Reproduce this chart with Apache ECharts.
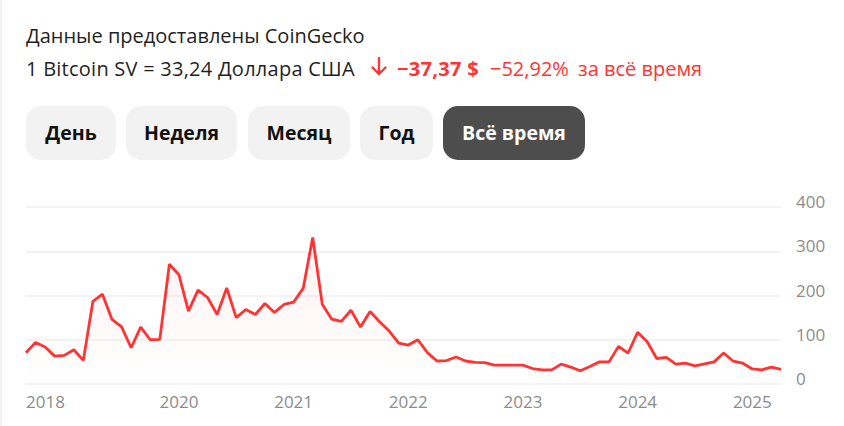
<!DOCTYPE html>
<html>
<head>
<meta charset="utf-8">
<script src="https://cdn.jsdelivr.net/npm/echarts@6/dist/echarts.min.js"></script>
<style>
  html, body { margin: 0; padding: 0; background: #fff; }
  body { width: 844px; height: 426px; position: relative; overflow: hidden; font-family: "Open Sans", "Noto Sans", sans-serif; }
  #edge { position: absolute; left: 0; top: 0; width: 2px; height: 426px; background: #f2f2f2; }
  #chart { position: absolute; left: 0; top: 0; width: 844px; height: 426px; }
  .t { position: absolute; white-space: nowrap; font-size: 20px; color: #1f1f1f; line-height: 28px; }
  .red { color: #ff3333; }
  .btn { position: absolute; top: 106px; height: 54px; border-radius: 15px; background: #f2f2f2; color: #111;
         font-weight: 700; font-size: 19.5px; line-height: 54px; text-align: center; }
  .btn.active { background: #4d4d4d; color: #fff; }
</style>
</head>
<body>
<div id="chart"></div>
<div id="edge"></div>
<div class="t" style="left:26px;top:22px">Данные предоставлены CoinGecko</div>
<div class="t" style="left:26px;top:55px;letter-spacing:0.25px">1 Bitcoin SV = 33,24 Доллара США</div>
<svg style="position:absolute;left:371px;top:57px" width="16" height="19" viewBox="0 0 16 19">
  <path d="M8 1 V17 M1.5 10.5 L8 17 L14.5 10.5" fill="none" stroke="#ff3333" stroke-width="2.3" stroke-linecap="round" stroke-linejoin="round"/>
</svg>
<div class="t red" style="left:397px;top:55px;font-weight:700;letter-spacing:0.3px">−37,37 $</div>
<div class="t red" style="left:490px;top:55px">−52,92%</div>
<div class="t red" style="left:578px;top:55px">за всё время</div>
<div class="btn" style="left:26px;width:90px">День</div>
<div class="btn" style="left:126px;width:111px">Неделя</div>
<div class="btn" style="left:248px;width:102px">Месяц</div>
<div class="btn" style="left:360px;width:73px">Год</div>
<div class="btn active" style="left:443px;width:142px">Всё время</div>
<script>
// Monthly categories, Sep 2018 – Apr 2025
const months = [
  '2018-09','2018-10','2018-11','2018-12',
  '2019-01','2019-02','2019-03','2019-04','2019-05','2019-06','2019-07','2019-08','2019-09','2019-10','2019-11','2019-12',
  '2020-01','2020-02','2020-03','2020-04','2020-05','2020-06','2020-07','2020-08','2020-09','2020-10','2020-11','2020-12',
  '2021-01','2021-02','2021-03','2021-04','2021-05','2021-06','2021-07','2021-08','2021-09','2021-10','2021-11','2021-12',
  '2022-01','2022-02','2022-03','2022-04','2022-05','2022-06','2022-07','2022-08','2022-09','2022-10','2022-11','2022-12',
  '2023-01','2023-02','2023-03','2023-04','2023-05','2023-06','2023-07','2023-08','2023-09','2023-10','2023-11','2023-12',
  '2024-01','2024-02','2024-03','2024-04','2024-05','2024-06','2024-07','2024-08','2024-09','2024-10','2024-11','2024-12',
  '2025-01','2025-02','2025-03','2025-04'
];
// Price in USD (Bitcoin SV)
const prices = [
  70.6, 94, 83.5, 63,
  64.7, 77.5, 53.4, 187, 203, 146, 129, 82, 128.6, 100, 100.8, 270.7,
  247, 164.7, 212, 195.5, 157, 217, 150, 168.5, 157, 182, 161.7, 179.7,
  185, 216, 331, 180.5, 146.6, 141.4, 167, 128.6, 164, 140.6, 119.6, 92.5,
  88, 100, 71, 52, 53, 61, 52, 49, 48.5, 42.5, 42.5, 42.5,
  42.5, 35, 32, 32, 45, 38, 30, 39.4, 50, 50, 85, 70,
  117, 95.5, 57.6, 60, 45, 47, 41, 45.5, 50, 70, 51.5, 47,
  34, 32, 38, 33.24
];
// X tick labels shown (category -> label)
const xTickMonths = ['2018-09','2020-01','2021-01','2022-01','2023-01','2024-01','2025-01'];
const xTickLabels = ['2018','2020','2021','2022','2023','2024','2025'];
// Y ticks
const yTicks = [0, 100, 200, 300, 400];

const chart = echarts.init(document.getElementById('chart'), null, { renderer: 'svg' });
chart.setOption({
  animation: false,
  grid: { left: 26, right: 63, top: 207, bottom: 42, containLabel: false },
  xAxis: {
    type: 'category',
    data: months,
    boundaryGap: false,
    axisLine: { show: false },
    axisTick: { show: false },
    axisLabel: {
      interval: (idx, val) => xTickMonths.indexOf(val) >= 0,
      formatter: (val) => { const k = xTickMonths.indexOf(val); return k >= 0 ? xTickLabels[k] : ''; },
      color: '#8c8c8c',
      fontSize: 17,
      fontFamily: 'Open Sans',
      margin: 9,
      alignMinLabel: 'left',
      hideOverlap: false
    },
    splitLine: { show: false }
  },
  yAxis: {
    type: 'value',
    position: 'right',
    min: yTicks[0],
    max: yTicks[yTicks.length - 1],
    interval: 100,
    axisLine: { show: false },
    axisTick: { show: false },
    axisLabel: {
      color: '#8c8c8c',
      fontSize: 17,
      fontFamily: 'Open Sans',
      margin: 15,
      align: 'left',
      verticalAlign: 'bottom',
      lineHeight: 11
    },
    splitLine: { lineStyle: { color: '#efefef', width: 1.5 } }
  },
  series: [{
    type: 'line',
    data: prices,
    symbol: 'none',
    lineStyle: { color: '#ff3333', width: 2.8 },
    itemStyle: { color: '#ff3333' },
    areaStyle: {
      color: new echarts.graphic.LinearGradient(0, 0, 0, 1, [
        { offset: 0, color: 'rgba(255,51,51,0.09)' },
        { offset: 1, color: 'rgba(255,51,51,0.0)' }
      ])
    }
  }]
});
</script>
</body>
</html>
